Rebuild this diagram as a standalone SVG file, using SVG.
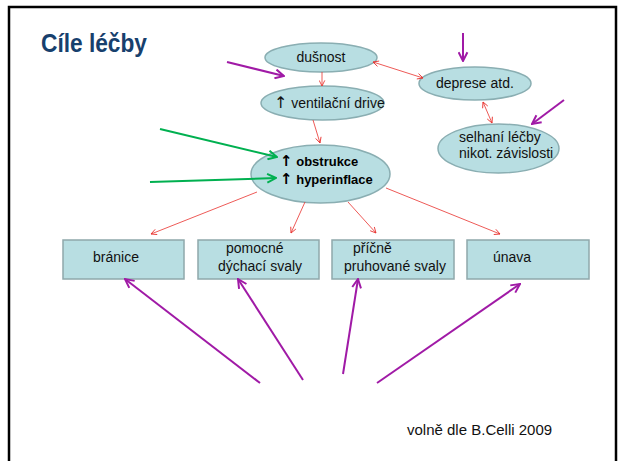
<svg xmlns="http://www.w3.org/2000/svg" width="619" height="461" viewBox="0 0 619 461">
<style>
.n{fill:#B8DEE2;stroke:#8AAEB2;stroke-width:1.5}
.r{fill:#B8DEE2;stroke:#8FA8AB;stroke-width:1.5}
.t{font-family:"Liberation Sans",Arial,sans-serif;font-size:14px;fill:#111}
.b{font-family:"Liberation Sans",Arial,sans-serif;font-size:13px;font-weight:bold;fill:#000}
.up{font-family:"DejaVu Sans",sans-serif;font-size:16px}
.upb{font-family:"DejaVu Sans",sans-serif;font-size:15px;font-weight:bold}
.red{fill:none;stroke:#E8302C;stroke-width:0.8}
.mag{fill:none;stroke:#A01AA6;stroke-width:2}
.grn{fill:none;stroke:#00B050;stroke-width:2}
</style>
<defs>
<marker id="ar" viewBox="0 0 10 10" refX="9" refY="5" markerWidth="7" markerHeight="7" markerUnits="userSpaceOnUse" orient="auto-start-reverse"><path d="M1,1 L9,5 L1,9" fill="none" stroke="#E8302C" stroke-width="1.2"/></marker>
<marker id="am" viewBox="0 0 10 10" refX="9" refY="5" markerWidth="11" markerHeight="11" markerUnits="userSpaceOnUse" orient="auto"><path d="M1,1 L9,5 L1,9" fill="none" stroke="#A01AA6" stroke-width="1.8"/></marker>
<marker id="ag" viewBox="0 0 10 10" refX="9" refY="5" markerWidth="11" markerHeight="11" markerUnits="userSpaceOnUse" orient="auto"><path d="M1,1 L9,5 L1,9" fill="none" stroke="#00B050" stroke-width="1.8"/></marker>
</defs>
<rect x="0" y="0" width="619" height="461" fill="#fff"/>
<rect x="9" y="7" width="607" height="470" fill="none" stroke="#000" stroke-width="2.5"/>
<text x="41" y="52" font-family="Liberation Sans,Arial,sans-serif" font-size="25" font-weight="bold" fill="#17406D" textLength="106" lengthAdjust="spacingAndGlyphs">Cíle léčby</text>

<g id="dusnost"><ellipse class="n" cx="321" cy="57.5" rx="56" ry="14.5"/><text class="t" x="321" y="62" text-anchor="middle">dušnost</text></g>
<g id="ventilacni"><ellipse class="n" cx="322.5" cy="103" rx="61.5" ry="17"/><text class="t" x="274" y="108"><tspan class="up">↑</tspan> ventilační drive</text></g>
<g id="obstrukce"><ellipse class="n" cx="320.5" cy="174" rx="69.5" ry="29"/>
<text class="b" x="280" y="166"><tspan class="upb">↑</tspan> obstrukce</text>
<text class="b" x="280" y="184"><tspan class="upb">↑</tspan> hyperinflace</text></g>
<g id="deprese"><ellipse class="n" cx="475" cy="83.5" rx="56" ry="16.5"/><text class="t" x="436" y="88">deprese atd.</text></g>
<g id="selhani"><ellipse class="n" cx="498.5" cy="148.5" rx="60.5" ry="24.5"/><text class="t" x="459" y="142">selhaní léčby</text><text class="t" x="459" y="158">nikot. závislosti</text></g>

<g id="branice"><rect class="r" x="63" y="240" width="121" height="39"/><text class="t" x="93" y="262">bránice</text></g>
<g id="pomocne"><rect class="r" x="198" y="240" width="121" height="39"/><text class="t" x="226" y="253">pomocné</text><text class="t" x="218" y="271">dýchací svaly</text></g>
<g id="pricne"><rect class="r" x="332" y="240" width="122" height="39"/><text class="t" x="353" y="253">příčně</text><text class="t" x="344" y="271">pruhované svaly</text></g>
<g id="unava"><rect class="r" x="467" y="240" width="122" height="39"/><text class="t" x="493" y="262">únava</text></g>

<g id="connectors">
<line class="red" x1="322" y1="72" x2="322" y2="86" marker-end="url(#ar)"/>
<line class="red" x1="313" y1="120" x2="320" y2="143" marker-end="url(#ar)"/>
<line class="red" x1="373" y1="62" x2="423" y2="78" marker-start="url(#ar)" marker-end="url(#ar)"/>
<line class="red" x1="483" y1="102" x2="492" y2="123" marker-start="url(#ar)" marker-end="url(#ar)"/>
<line class="red" x1="257" y1="192" x2="151" y2="234" marker-end="url(#ar)"/>
<line class="red" x1="305" y1="202" x2="291" y2="233" marker-end="url(#ar)"/>
<line class="red" x1="348" y1="202" x2="376" y2="233" marker-end="url(#ar)"/>
<line class="red" x1="386" y1="188" x2="500" y2="234" marker-end="url(#ar)"/>

<line class="mag" x1="227" y1="62" x2="284" y2="76" marker-end="url(#am)"/>
<line class="mag" x1="463" y1="33" x2="463" y2="61" marker-end="url(#am)"/>
<line class="mag" x1="564" y1="100" x2="532" y2="124" marker-end="url(#am)"/>
<line class="mag" x1="260" y1="383" x2="125" y2="279" marker-end="url(#am)"/>
<line class="mag" x1="303" y1="380" x2="238" y2="279" marker-end="url(#am)"/>
<line class="mag" x1="343" y1="374" x2="358" y2="279" marker-end="url(#am)"/>
<line class="mag" x1="377" y1="383" x2="520" y2="284" marker-end="url(#am)"/>

<line class="grn" x1="160" y1="129" x2="277" y2="157" marker-end="url(#ag)"/>
<line class="grn" x1="150" y1="182" x2="276" y2="178" marker-end="url(#ag)"/>
</g>
<text x="407" y="435" font-family="Liberation Sans,Arial,sans-serif" font-size="15" fill="#111">volně dle B.Celli 2009</text>
</svg>
